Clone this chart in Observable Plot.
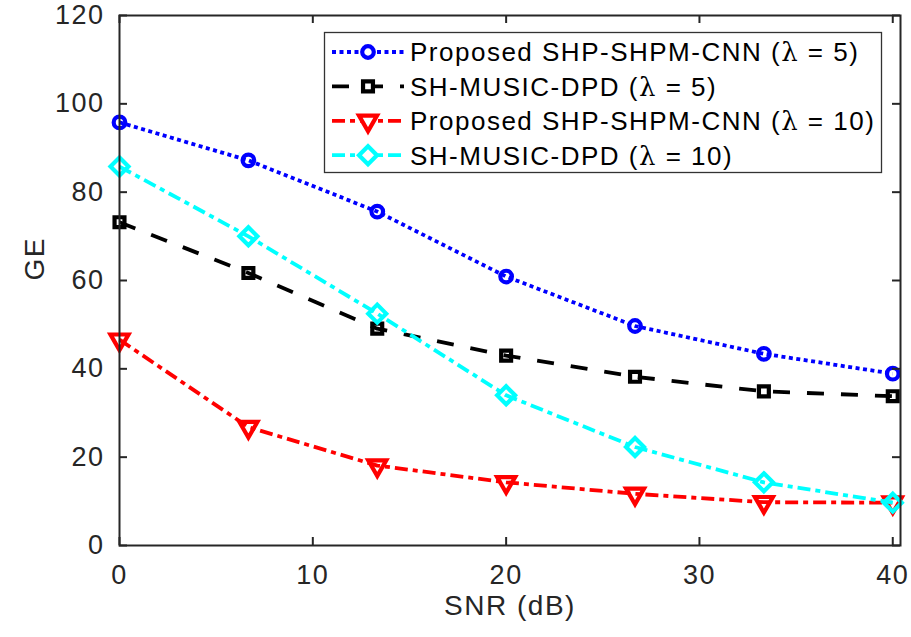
<!DOCTYPE html>
<html><head><meta charset="utf-8">
<script src="https://cdn.jsdelivr.net/npm/d3@7"></script>
<script src="https://cdn.jsdelivr.net/npm/@observablehq/plot@0.6"></script>
<style>
body{margin:0;background:#fff}
#wrap{position:relative;width:911px;height:637px}
#wrap svg{display:block}
</style>
</head><body><div id="wrap"></div>
<script>
// ---- data ----
const snr = [0, 6.667, 13.333, 20, 26.667, 33.333, 40];
const geProposed5  = [95.8, 87.2, 75.6, 60.9, 49.7, 43.4, 38.9];
const geMusic5     = [73.2, 61.7, 49.1, 43.0, 38.2, 34.9, 33.8];
const geProposed10 = [46.6, 26.8, 18.1, 14.3, 11.7, 9.8, 9.7];
const geMusic10    = [85.8, 70.0, 52.5, 34.0, 22.3, 14.3, 9.7];
const seriesLabels = [
  ["Proposed SHP-SHPM-CNN (", "λ", " = 5)"],
  ["SH-MUSIC-DPD (", "λ", " = 5)"],
  ["Proposed SHP-SHPM-CNN (", "λ", " = 10)"],
  ["SH-MUSIC-DPD (", "λ", " = 10)"]
];
const xTicks = [0, 10, 20, 30, 40];
const yTicks = [0, 20, 40, 60, 80, 100, 120];
const xLabel = "SNR (dB)";
const yLabel = "GE";

// ---- styles ----
const seriesValues = [geProposed5, geMusic5, geProposed10, geMusic10];
const styles = [
  {color: "#0000ff", dash: "4,3.5", symbol: "circle", d3sym: d3.symbolCircle, r: 5.8, rotate: 0},
  {color: "#000000", dash: "17,17", symbol: "square2", d3sym: d3.symbolSquare2, r: 6.3, rotate: 0},
  {color: "#ff0000", dash: "13,5,5,5", symbol: "triangle2", d3sym: d3.symbolTriangle2, r: 8.6, rotate: 180},
  {color: "#00ffff", dash: "13,5,5,5", symbol: "diamond2", d3sym: d3.symbolDiamond2, r: 8.1, rotate: 0}
];

const series = seriesValues.map((vals, i) => ({
  rows: snr.map((x, j) => ({x, y: vals[j]})),
  style: styles[i],
  label: seriesLabels[i]
}));

const W = 911, H = 637;
const mL = 119, mR = 11, mT = 15, mB = 92;
const frameW = W - mL - mR, frameH = H - mT - mB;
const tickLen = 8;
const axisColor = "#262626";
const font = "'Liberation Sans', Arial, Helvetica, sans-serif";

const marks = [
  Plot.axisX(xTicks, {tickSize: 0, tickPadding: 19, label: null, fontSize: 27, fill: axisColor}),
  Plot.axisY(yTicks, {tickSize: 0, tickPadding: 15, label: null, fontSize: 27, fill: axisColor}),
  Plot.text([yLabel], {text: d => d, frameAnchor: "left", dx: -84, rotate: -90, fontSize: 28, fill: axisColor}),
  Plot.text([xLabel], {text: d => d, frameAnchor: "bottom", dy: 69, fontSize: 28, fill: axisColor}),
];
for (const s of series) {
  marks.push(Plot.line(s.rows, {x: "x", y: "y", stroke: s.style.color, strokeWidth: 3.8, strokeDasharray: s.style.dash, strokeLinecap: "butt"}));
  marks.push(Plot.dot(s.rows, {x: "x", y: "y", symbol: s.style.symbol, r: s.style.r, stroke: s.style.color, fill: "none", strokeWidth: 4.2, rotate: s.style.rotate}));
}
marks.push(
  Plot.tickX(xTicks, {x: d => d, insetTop: frameH - tickLen, stroke: axisColor, strokeWidth: 2}),
  Plot.tickX(xTicks, {x: d => d, insetBottom: frameH - tickLen, stroke: axisColor, strokeWidth: 2}),
  Plot.tickY(yTicks, {y: d => d, insetRight: frameW - tickLen, stroke: axisColor, strokeWidth: 2}),
  Plot.tickY(yTicks, {y: d => d, insetLeft: frameW - tickLen, stroke: axisColor, strokeWidth: 2}),
  Plot.frame({stroke: axisColor, strokeWidth: 2})
);

const chart = Plot.plot({
  width: W, height: H,
  marginLeft: mL, marginRight: mR, marginTop: mT, marginBottom: mB,
  x: {domain: [0, 40.4]},
  y: {domain: [0, 120]},
  style: {fontFamily: font, background: "white", color: axisColor, overflow: "visible"},
  marks
});
d3.select(chart).selectAll("text").attr("letter-spacing", "1.5px");
const wrap = document.getElementById("wrap");
wrap.appendChild(chart);

// ---- legend overlay ----
const lg = d3.select(wrap).append("svg")
  .attr("width", W).attr("height", H)
  .style("position", "absolute").style("left", 0).style("top", 0)
  .style("pointer-events", "none");
lg.append("rect").attr("x", 324.5).attr("y", 32.5).attr("width", 557).attr("height", 140)
  .attr("fill", "white").attr("stroke", "#333").attr("stroke-width", 1.3);
series.forEach((s, i) => {
  const cy = 52 + i * 34.4;
  const g = lg.append("g");
  g.append("line").attr("x1", 332).attr("x2", 404).attr("y1", cy).attr("y2", cy)
    .attr("stroke", s.style.color).attr("stroke-width", 3.8).attr("stroke-dasharray", s.style.dash);
  g.append("path").attr("d", d3.symbol(s.style.d3sym, Math.PI * s.style.r * s.style.r)())
    .attr("transform", `translate(368,${cy}) rotate(${s.style.rotate})`)
    .attr("fill", "white").attr("stroke", s.style.color).attr("stroke-width", 4.2);
  const t = g.append("text").attr("x", 410).attr("y", cy).attr("dy", "0.36em")
    .attr("font-family", font).attr("font-size", 26).attr("letter-spacing", 1.5).attr("fill", "#000");
  t.append("tspan").text(s.label[0]);
  t.append("tspan").text(s.label[1]).attr("font-family", "'DejaVu Serif', 'Liberation Serif', serif");
  t.append("tspan").text(s.label[2]);
});
</script>
</body></html>
